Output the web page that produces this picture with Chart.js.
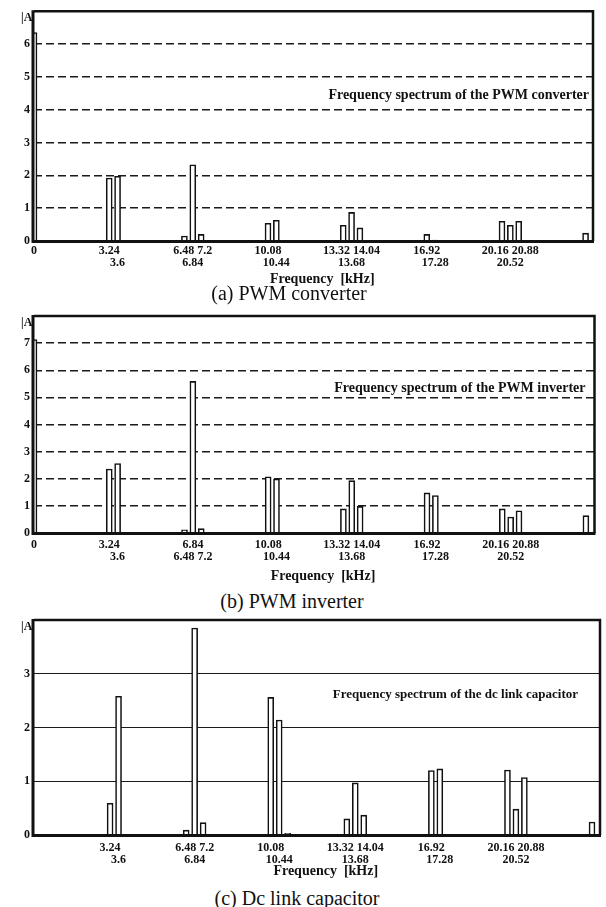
<!DOCTYPE html>
<html>
<head>
<meta charset="utf-8">
<script src="https://cdn.jsdelivr.net/npm/chart.js@4.4.0/dist/chart.umd.min.js"></script>
<style>
  body { margin: 0; background: #fff; width: 606px; height: 907px; position: relative; overflow: hidden; }
  canvas { position: absolute; left: 0; }
  .caption { position: absolute; font-family: "Liberation Serif", serif; font-size: 20px; line-height: 20px; color: #111; transform: translateX(-50%); white-space: nowrap; }
</style>
</head>
<body>
<canvas id="chartA" width="606" height="287" style="top:0"></canvas>
<div class="caption" style="left:289px;top:283px">(a) PWM converter</div>
<canvas id="chartB" width="606" height="284" style="top:300px"></canvas>
<div class="caption" style="left:292px;top:591px">(b) PWM inverter</div>
<canvas id="chartC" width="606" height="279" style="top:600px"></canvas>
<div class="caption" style="left:297px;top:888px">(c) Dc link capacitor</div>
<script>
    // harmonic frequencies [kHz]
    const freqsAB = [0, 3.24, 3.6, 6.48, 6.84, 7.2, 10.08, 10.44, 13.32, 13.68, 14.04, 16.92, 17.28, 20.16, 20.52, 20.88, 23.76];
    const freqsC = [3.24, 3.6, 6.48, 6.84, 7.2, 10.08, 10.44, 10.8, 13.32, 13.68, 14.04, 16.92, 17.28, 20.16, 20.52, 20.88, 23.76];

    // amplitudes [A]
    const ampConverter = [6.35, 1.92, 1.97, 0.15, 2.32, 0.2, 0.54, 0.63, 0.48, 0.87, 0.4, 0.2, 0.03, 0.6, 0.48, 0.6, 0.24];
    const ampInverter = [7.13, 2.36, 2.56, 0.12, 5.59, 0.16, 2.07, 1.99, 0.89, 1.93, 0.98, 1.48, 1.38, 0.89, 0.59, 0.82, 0.64];
    const ampCapacitor = [0.59, 2.58, 0.09, 3.85, 0.23, 2.56, 2.14, 0.03, 0.3, 0.97, 0.37, 1.2, 1.23, 1.21, 0.48, 1.07, 0.24];

    // x tick labels: two rows under the axis
    const tickValsAB = [0, 3.24, 3.6, 6.84, 10.08, 10.44, 13.68, 16.92, 17.28, 20.52];
    const tickTopA = ['0', '3.24', '', '6.48 7.2', '10.08', '', '13.32 14.04', '16.92', '', '20.16 20.88'];
    const tickBotA = ['', '', '3.6', '6.84', '', '10.44', '13.68', '', '17.28', '20.52'];
    const tickTopB = ['0', '3.24', '', '6.84', '10.08', '', '13.32 14.04', '16.92', '', '20.16 20.88'];
    const tickBotB = ['', '', '3.6', '6.48 7.2', '', '10.44', '13.68', '', '17.28', '20.52'];
    const tickValsC = [3.24, 3.6, 6.84, 10.08, 10.44, 13.68, 16.92, 17.28, 20.52];
    const tickTopC = ['3.24', '', '6.48 7.2', '10.08', '', '13.32 14.04', '16.92', '', '20.16 20.88'];
    const tickBotC = ['', '3.6', '6.84', '', '10.44', '13.68', '', '17.28', '20.52'];

    const serif = '"Liberation Serif", "Times New Roman", serif';

    const framePlugin = {
      id: 'frame',
      afterDatasetsDraw(chart, args, o) {
        const { ctx, chartArea: a, scales } = chart;
        ctx.save();
        ctx.strokeStyle = '#111';
        ctx.lineWidth = 2.5;
        ctx.beginPath();
        ctx.moveTo(a.left, a.top);
        ctx.lineTo(a.right, a.top);
        ctx.lineTo(a.right, a.bottom);
        ctx.stroke();
        ctx.lineWidth = 3;
        ctx.beginPath();
        ctx.moveTo(a.left - 1, a.top - 1);
        ctx.lineTo(a.left - 1, a.bottom + 0.5);
        ctx.lineTo(a.right + 1, a.bottom + 0.5);
        ctx.stroke();
        ctx.fillStyle = '#111';
        ctx.textBaseline = 'middle';
        ctx.textAlign = 'right';
        ctx.font = 'bold 12px ' + serif;
        ctx.fillText('|A|', a.left + 1, a.top + 7);
        ctx.font = 'bold ' + o.size + 'px ' + serif;
        ctx.fillText(o.text, a.right - o.gap, scales.y.getPixelForValue(o.at));
        ctx.restore();
      }
    };

    function makeChart(id, freqs, amps, ticks, top, bot, cfg) {
      return new Chart(document.getElementById(id), {
        type: 'bar',
        data: {
          datasets: [{
            data: freqs.map((f, i) => ({ x: f, y: amps[i] })),
            backgroundColor: '#fff',
            borderColor: '#111',
            borderWidth: 1.6,
            barThickness: 6,
            clip: 0
          }]
        },
        options: {
          responsive: false,
          animation: false,
          layout: { padding: { top: cfg.padTop, right: cfg.padRight, left: 0, bottom: 0 } },
          plugins: {
            legend: { display: false },
            tooltip: { enabled: false },
            frame: { text: cfg.note, at: cfg.noteAt, gap: cfg.noteGap, size: cfg.noteSize }
          },
          scales: {
            x: {
              type: 'linear',
              min: 0,
              max: cfg.xMax,
              offset: false,
              grid: { display: false, drawTicks: false, offset: false },
              border: { display: false },
              afterBuildTicks: s => { s.ticks = ticks.map(v => ({ value: v })); },
              afterFit: s => { s.height = cfg.xHeight; },
              ticks: {
                autoSkip: false,
                maxRotation: 0,
                minRotation: 0,
                padding: cfg.tickPad,
                color: '#111',
                font: { family: serif, size: 12, weight: 'bold', lineHeight: 1 },
                callback: (v, i) => bot[i] ? [top[i], bot[i]] : top[i]
              },
              title: {
                display: true,
                text: '     Frequency  [kHz]',
                color: '#111',
                padding: 0,
                font: { family: serif, size: 14, weight: 'bold', lineHeight: 1.1 }
              }
            },
            y: {
              min: 0,
              max: cfg.yMax,
              afterFit: s => { s.width = 34; },
              grid: { color: '#1a1a1a', lineWidth: cfg.dash.length ? 1.5 : 1, drawTicks: false },
              border: { display: false, dash: cfg.dash },
              ticks: {
                stepSize: 1,
                padding: 4,
                color: '#111',
                font: { family: serif, size: 12, weight: 'bold' },
                callback: v => v === cfg.yMax ? '' : v
              }
            }
          }
        },
        plugins: [framePlugin]
      });
    }

    makeChart('chartA', freqsAB, ampConverter, tickValsAB, tickTopA, tickBotA, {
      padTop: 9, padRight: 13, xHeight: 46, tickPad: 4, xMax: 24.08, yMax: 7, dash: [8, 4],
      note: 'Frequency spectrum of the PWM converter', noteAt: 4.45, noteGap: 4, noteSize: 14
    });

    makeChart('chartB', freqsAB, ampInverter, tickValsAB, tickTopB, tickBotB, {
      padTop: 16, padRight: 11.5, xHeight: 51, tickPad: 6, xMax: 24.13, yMax: 8, dash: [8, 4],
      note: 'Frequency spectrum of the PWM inverter', noteAt: 5.34, noteGap: 9, noteSize: 14
    });

    makeChart('chartC', freqsC, ampCapacitor, tickValsC, tickTopC, tickBotC, {
      padTop: 20, padRight: 6, xHeight: 44, tickPad: 7, xMax: 24.1, yMax: 4, dash: [],
      note: 'Frequency spectrum of the dc link capacitor', noteAt: 2.62, noteGap: 22, noteSize: 13
    });
</script>
</body>
</html>
